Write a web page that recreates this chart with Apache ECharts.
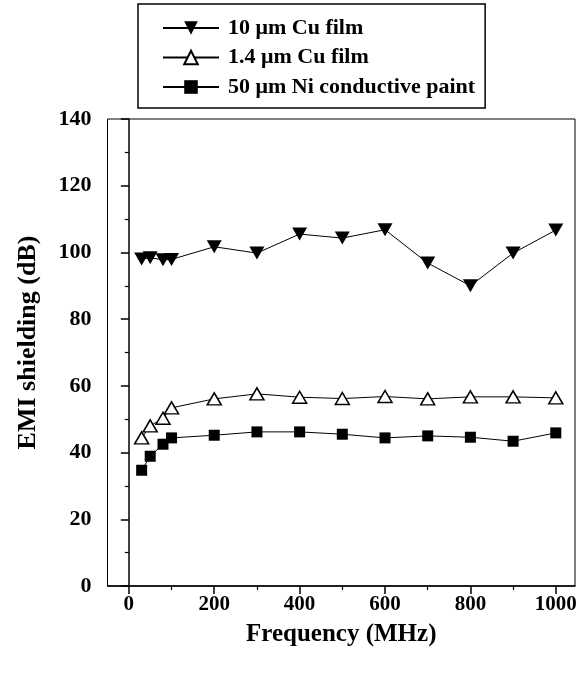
<!DOCTYPE html>
<html>
<head>
<meta charset="utf-8">
<script src="https://cdn.jsdelivr.net/npm/echarts@6/dist/echarts.min.js"></script>
<style>
html,body{margin:0;padding:0;background:#fff;}
#chart{width:582px;height:675px;}
</style>
</head>
<body>
<div id="chart"></div>
<script>
const freqs = [30, 50, 80, 100, 200, 300, 400, 500, 600, 700, 800, 900, 1000];
const cu10 = [98.0, 98.4, 97.8, 97.9, 101.7, 99.8, 105.5, 104.3, 106.8, 96.8, 90.0, 99.8, 106.7];
const cu14 = [44.4, 48.0, 50.3, 53.4, 56.1, 57.6, 56.6, 56.2, 56.8, 56.1, 56.7, 56.7, 56.4];
const ni50 = [34.7, 38.9, 42.5, 44.4, 45.2, 46.2, 46.2, 45.5, 44.4, 45.0, 44.6, 43.4, 45.9];
const seriesNames = ['10 \u03bcm Cu film', '1.4 \u03bcm Cu film', '50 \u03bcm Ni conductive paint'];
const xMajorTicks = [0, 200, 400, 600, 800, 1000];
const xMinorTicks = [100, 300, 500, 700, 900];

const FONT = '"Liberation Serif", "Times New Roman", serif';
const pair = (xs, ys) => xs.map((x, i) => [x, ys[i]]);

const chart = echarts.init(document.getElementById('chart'), null, {renderer: 'canvas'});
chart.setOption({
  animation: false,
  backgroundColor: '#fff',
  grid: {
    left: 107.5, right: 7, top: 119, bottom: 89,
    show: true, borderColor: '#000', borderWidth: 1, backgroundColor: 'transparent'
  },
  legend: {
    orient: 'vertical',
    left: 138, top: 4,
    padding: [13, 10, 10, 24],
    itemGap: 7.5,
    itemWidth: 56, itemHeight: 17,
    borderColor: '#000', borderWidth: 1.5,
    textStyle: {fontFamily: FONT, fontWeight: 'bold', fontSize: 22, color: '#000', lineHeight: 22, padding: [0, 0, 0, 4]},
    data: seriesNames
  },
  xAxis: [{
    type: 'value', min: -50, max: 1045,
    position: 'bottom',
    splitLine: {show: false},
    axisLine: {show: true, lineStyle: {color: '#000', width: 1.5}},
    axisTick: {show: true, inside: false, length: 8, customValues: xMajorTicks, lineStyle: {color: '#000', width: 1.5}},
    axisLabel: {show: true, customValues: xMajorTicks, margin: 8, formatter: v => String(v), fontFamily: FONT, fontWeight: 'bold', fontSize: 21, color: '#000'},
    name: 'Frequency (MHz)', nameLocation: 'middle', nameGap: 36,
    nameTextStyle: {fontFamily: FONT, fontWeight: 'bold', fontSize: 25, color: '#000'}
  }, {
    type: 'value', min: -50, max: 1045,
    position: 'bottom',
    splitLine: {show: false},
    axisLine: {show: false},
    axisTick: {show: true, inside: false, length: 4, customValues: xMinorTicks, lineStyle: {color: '#000', width: 1.2}},
    axisLabel: {show: false}
  }],
  yAxis: {
    type: 'value', min: 0, max: 140, interval: 20,
    splitLine: {show: false},
    axisLine: {show: true, lineStyle: {color: '#000', width: 1.5}},
    axisTick: {show: true, inside: false, length: 8, lineStyle: {color: '#000', width: 1.5}},
    minorTick: {show: true, splitNumber: 2, length: 4, lineStyle: {color: '#000', width: 1.2}},
    axisLabel: {margin: 16, formatter: v => String(v), fontFamily: FONT, fontWeight: 'bold', fontSize: 22, color: '#000'},
    name: 'EMI shielding (dB)', nameLocation: 'middle', nameGap: 66,
    nameTextStyle: {fontFamily: FONT, fontWeight: 'bold', fontSize: 26, color: '#000', padding: [0, 0, 0, 20]}
  },
  series: [{
    name: seriesNames[0], type: 'line', xAxisIndex: 0,
    data: pair(freqs, cu10),
    symbol: 'triangle', symbolRotate: 180, symbolSize: [15, 13],
    lineStyle: {color: '#000', width: 1},
    itemStyle: {color: '#000', borderColor: '#000', borderWidth: 0}
  }, {
    name: seriesNames[1], type: 'line', xAxisIndex: 0,
    data: pair(freqs, cu14),
    symbol: 'triangle', symbolSize: [14, 12],
    lineStyle: {color: '#000', width: 1},
    itemStyle: {color: '#fff', borderColor: '#000', borderWidth: 1.5}
  }, {
    name: seriesNames[2], type: 'line', xAxisIndex: 0,
    data: pair(freqs, ni50),
    symbol: 'rect', symbolSize: 11,
    lineStyle: {color: '#000', width: 1},
    itemStyle: {color: '#000', borderColor: '#000', borderWidth: 0}
  }]
});
</script>
</body>
</html>
